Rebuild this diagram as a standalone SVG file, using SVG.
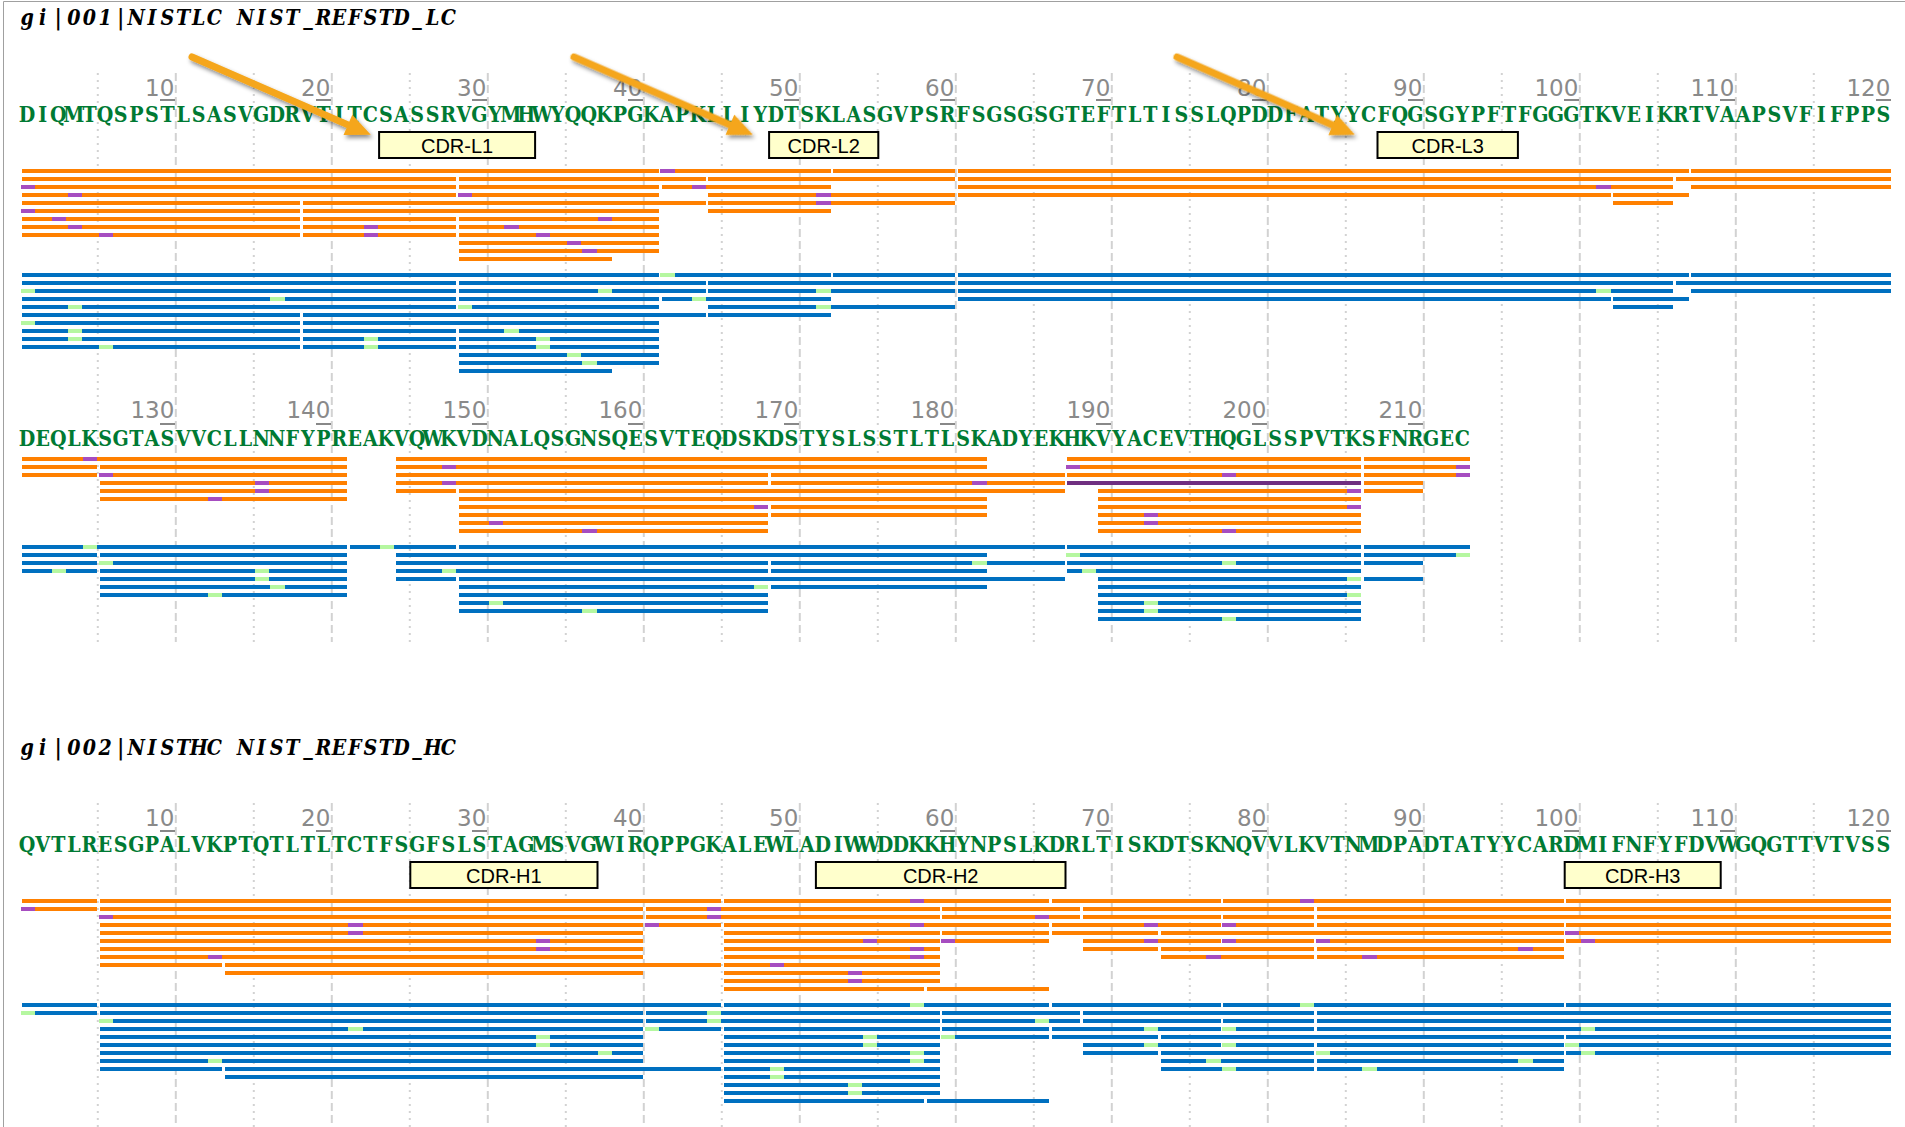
<svg xmlns="http://www.w3.org/2000/svg" width="1905" height="1127" viewBox="0 0 1905 1127">
<defs>
<style>
.title{font-family:"DejaVu Serif","Liberation Serif",serif;font-size:22px;font-weight:bold;font-style:italic;fill:#000;text-anchor:middle}
.seq{font-family:"DejaVu Serif","Liberation Serif",serif;font-size:22px;font-weight:bold;fill:#007A33;text-anchor:middle}
.num{font-family:"DejaVu Sans",Verdana,sans-serif;font-size:23px;fill:#8a8a8a;text-anchor:end}
.tick rect{fill:#888}
.cdr rect{fill:#FFFFCC;stroke:#000;stroke-width:2}
.cdr text{font-family:"Liberation Sans",Arial,sans-serif;font-size:20px;fill:#000;text-anchor:middle}
.o rect{fill:#FF8000}
.b rect{fill:#0070C0}
.o rect.p{fill:#A64DC0}
.o rect.dp{fill:#6F2F80}
.b rect.g{fill:#B5F7A0}
.bars{shape-rendering:crispEdges}
.shaft{fill:none;stroke:#F5A61C;stroke-width:7;stroke-linecap:round}
.head{fill:#F5A61C;stroke:none}
</style>
<filter id="shadow" x="-20%" y="-40%" width="140%" height="180%">
<feDropShadow dx="2" dy="3" stdDeviation="2" flood-color="#000" flood-opacity="0.45"/>
</filter>
</defs>
<rect x="0" y="0" width="1905" height="1127" fill="#fff"/>
<path d="M3.5,1127 V1.5 H1905" fill="none" stroke="#a0a0a0" stroke-width="1"/>

<g id="gridlines">
<path fill="none" stroke="#d2d2d2" stroke-width="2" stroke-dasharray="8 4" d="M175.8,73V642M331.8,73V642M487.8,73V642M643.8,73V642M799.8,73V642M955.8,73V642M1111.8,73V642M1267.8,73V642M1423.8,73V642M1579.8,73V642M1735.8,73V642M175.8,803V1127M331.8,803V1127M487.8,803V1127M643.8,803V1127M799.8,803V1127M955.8,803V1127M1111.8,803V1127M1267.8,803V1127M1423.8,803V1127M1579.8,803V1127M1735.8,803V1127"/>
<path fill="none" stroke="#d2d2d2" stroke-width="2" stroke-dasharray="2 5" d="M97.8,73V642M253.8,73V642M409.8,73V642M565.8,73V642M721.8,73V642M877.8,73V642M1033.8,73V642M1189.8,73V642M1345.8,73V642M1501.8,73V642M1657.8,73V642M1813.8,73V642M97.8,803V1127M253.8,803V1127M409.8,803V1127M565.8,803V1127M721.8,803V1127M877.8,803V1127M1033.8,803V1127M1189.8,803V1127M1345.8,803V1127M1501.8,803V1127M1657.8,803V1127M1813.8,803V1127"/>
</g>

<g id="section-lc">
<text class="title" transform="translate(27.1,0) scale(0.866667,1)" y="25" x="0 18 36 54 72 90 108 126 144 162 180 198 216 234 252 270 288 306 324 342 360 378 396 414 432 450 468 486">gi|001|NISTLC NIST_REFSTD_LC</text>
<g class="num">
<text x="174.3" y="95.5">10</text><text x="330.3" y="95.5">20</text><text x="486.3" y="95.5">30</text><text x="642.3" y="95.5">40</text><text x="798.3" y="95.5">50</text><text x="954.3" y="95.5">60</text><text x="1110.3" y="95.5">70</text><text x="1266.3" y="95.5">80</text><text x="1422.3" y="95.5">90</text><text x="1578.3" y="95.5">100</text><text x="1734.3" y="95.5">110</text><text x="1890.3" y="95.5">120</text>
</g>
<g class="tick bars" transform="translate(19.3,98.5) scale(15.6,1)">
<rect x="9.05" width="0.95" height="2.6"/><rect x="19.05" width="0.95" height="2.6"/><rect x="29.05" width="0.95" height="2.6"/><rect x="39.05" width="0.95" height="2.6"/><rect x="49.05" width="0.95" height="2.6"/><rect x="59.05" width="0.95" height="2.6"/><rect x="69.05" width="0.95" height="2.6"/><rect x="79.05" width="0.95" height="2.6"/><rect x="89.05" width="0.95" height="2.6"/><rect x="99.05" width="0.95" height="2.6"/><rect x="109.05" width="0.95" height="2.6"/><rect x="119.05" width="0.95" height="2.6"/>
</g>
<text class="seq" transform="translate(27.1,0) scale(0.866667,1)" y="122" x="0 18 36 54 72 90 108 126 144 162 180 198 216 234 252 270 288 306 324 342 360 378 396 414 432 450 468 486 504 522 540 558 576 594 612 630 648 666 684 702 720 738 756 774 792 810 828 846 864 882 900 918 936 954 972 990 1008 1026 1044 1062 1080 1098 1116 1134 1152 1170 1188 1206 1224 1242 1260 1278 1296 1314 1332 1350 1368 1386 1404 1422 1440 1458 1476 1494 1512 1530 1548 1566 1584 1602 1620 1638 1656 1674 1692 1710 1728 1746 1764 1782 1800 1818 1836 1854 1872 1890 1908 1926 1944 1962 1980 1998 2016 2034 2052 2070 2088 2106 2124 2142">DIQMTQSPSTLSASVGDRVTITCSASSRVGYMHWYQQKPGKAPKLLIYDTSKLASGVPSRFSGSGSGTEFTLTISSLQPDDFATYYCFQGSGYPFTFGGGTKVEIKRTVAAPSVFIFPPS</text>
</g>

<g id="cdr-l1" class="cdr"><rect x="379.1" y="132" width="156" height="26"/><text x="457.1" y="152.5">CDR-L1</text></g>
<g id="cdr-l2" class="cdr"><rect x="769.1" y="132" width="109.2" height="26"/><text x="823.7" y="152.5">CDR-L2</text></g>
<g id="cdr-l3" class="cdr"><rect x="1377.5" y="132" width="140.4" height="26"/><text x="1447.7" y="152.5">CDR-L3</text></g>

<g id="lc-orange" class="o bars" transform="translate(19.3,169) scale(15.6,1)">
<rect x="0.17" y="0" width="40.83" height="4"/><rect x="41.17" y="0" width="10.83" height="4"/><rect x="52.17" y="0" width="7.83" height="4"/><rect x="60.17" y="0" width="46.83" height="4"/><rect x="107.17" y="0" width="12.83" height="4"/><rect class="p" x="41.1" y="0" width="0.9" height="4"/>
<rect x="0.17" y="8" width="27.83" height="4"/><rect x="28.17" y="8" width="15.83" height="4"/><rect x="44.17" y="8" width="15.83" height="4"/><rect x="60.17" y="8" width="45.83" height="4"/><rect x="106.17" y="8" width="13.83" height="4"/>
<rect x="0.17" y="16" width="27.83" height="4"/><rect x="28.17" y="16" width="12.83" height="4"/><rect x="41.17" y="16" width="10.83" height="4"/><rect x="60.17" y="16" width="45.83" height="4"/><rect x="107.17" y="16" width="12.83" height="4"/><rect class="p" x="0.1" y="16" width="0.9" height="4"/><rect class="p" x="43.1" y="16" width="0.9" height="4"/><rect class="p" x="101.1" y="16" width="0.9" height="4"/>
<rect x="0.17" y="24" width="27.83" height="4"/><rect x="28.17" y="24" width="12.83" height="4"/><rect x="44.17" y="24" width="15.83" height="4"/><rect x="60.17" y="24" width="41.83" height="4"/><rect x="102.17" y="24" width="4.83" height="4"/><rect class="p" x="3.1" y="24" width="0.9" height="4"/><rect class="p" x="28.1" y="24" width="0.9" height="4"/><rect class="p" x="51.1" y="24" width="0.9" height="4"/>
<rect x="0.17" y="32" width="17.83" height="4"/><rect x="18.17" y="32" width="25.83" height="4"/><rect x="44.17" y="32" width="15.83" height="4"/><rect x="102.17" y="32" width="3.83" height="4"/><rect class="p" x="51.1" y="32" width="0.9" height="4"/>
<rect x="0.17" y="40" width="17.83" height="4"/><rect x="18.17" y="40" width="22.83" height="4"/><rect x="44.17" y="40" width="7.83" height="4"/><rect class="p" x="0.1" y="40" width="0.9" height="4"/>
<rect x="0.17" y="48" width="17.83" height="4"/><rect x="18.17" y="48" width="9.83" height="4"/><rect x="28.17" y="48" width="12.83" height="4"/><rect class="p" x="2.1" y="48" width="0.9" height="4"/><rect class="p" x="37.1" y="48" width="0.9" height="4"/>
<rect x="0.17" y="56" width="17.83" height="4"/><rect x="18.17" y="56" width="9.83" height="4"/><rect x="28.17" y="56" width="12.83" height="4"/><rect class="p" x="3.1" y="56" width="0.9" height="4"/><rect class="p" x="22.1" y="56" width="0.9" height="4"/><rect class="p" x="31.1" y="56" width="0.9" height="4"/>
<rect x="0.17" y="64" width="17.83" height="4"/><rect x="18.17" y="64" width="9.83" height="4"/><rect x="28.17" y="64" width="12.83" height="4"/><rect class="p" x="5.1" y="64" width="0.9" height="4"/><rect class="p" x="22.1" y="64" width="0.9" height="4"/><rect class="p" x="33.1" y="64" width="0.9" height="4"/>
<rect x="28.17" y="72" width="12.83" height="4"/><rect class="p" x="35.1" y="72" width="0.9" height="4"/>
<rect x="28.17" y="80" width="12.83" height="4"/><rect class="p" x="36.1" y="80" width="0.9" height="4"/>
<rect x="28.17" y="88" width="9.83" height="4"/>
</g>

<g id="lc-blue" class="b bars" transform="translate(19.3,273) scale(15.6,1)">
<rect x="0.17" y="0" width="40.83" height="4"/><rect x="41.17" y="0" width="10.83" height="4"/><rect x="52.17" y="0" width="7.83" height="4"/><rect x="60.17" y="0" width="46.83" height="4"/><rect x="107.17" y="0" width="12.83" height="4"/><rect class="g" x="41.1" y="0" width="0.9" height="4"/>
<rect x="0.17" y="8" width="27.83" height="4"/><rect x="28.17" y="8" width="15.83" height="4"/><rect x="44.17" y="8" width="15.83" height="4"/><rect x="60.17" y="8" width="45.83" height="4"/><rect x="106.17" y="8" width="13.83" height="4"/>
<rect x="0.17" y="16" width="27.83" height="4"/><rect x="28.17" y="16" width="15.83" height="4"/><rect x="44.17" y="16" width="15.83" height="4"/><rect x="60.17" y="16" width="45.83" height="4"/><rect x="107.17" y="16" width="12.83" height="4"/><rect class="g" x="0.1" y="16" width="0.9" height="4"/><rect class="g" x="37.1" y="16" width="0.9" height="4"/><rect class="g" x="51.1" y="16" width="0.9" height="4"/><rect class="g" x="101.1" y="16" width="0.9" height="4"/>
<rect x="0.17" y="24" width="27.83" height="4"/><rect x="28.17" y="24" width="12.83" height="4"/><rect x="41.17" y="24" width="10.83" height="4"/><rect x="60.17" y="24" width="41.83" height="4"/><rect x="102.17" y="24" width="4.83" height="4"/><rect class="g" x="16.1" y="24" width="0.9" height="4"/><rect class="g" x="43.1" y="24" width="0.9" height="4"/>
<rect x="0.17" y="32" width="27.83" height="4"/><rect x="28.17" y="32" width="12.83" height="4"/><rect x="44.17" y="32" width="15.83" height="4"/><rect x="102.17" y="32" width="3.83" height="4"/><rect class="g" x="3.1" y="32" width="0.9" height="4"/><rect class="g" x="28.1" y="32" width="0.9" height="4"/><rect class="g" x="51.1" y="32" width="0.9" height="4"/>
<rect x="0.17" y="40" width="17.83" height="4"/><rect x="18.17" y="40" width="25.83" height="4"/><rect x="44.17" y="40" width="7.83" height="4"/>
<rect x="0.17" y="48" width="17.83" height="4"/><rect x="18.17" y="48" width="22.83" height="4"/><rect class="g" x="0.1" y="48" width="0.9" height="4"/>
<rect x="0.17" y="56" width="17.83" height="4"/><rect x="18.17" y="56" width="9.83" height="4"/><rect x="28.17" y="56" width="12.83" height="4"/><rect class="g" x="3.1" y="56" width="0.9" height="4"/><rect class="g" x="31.1" y="56" width="0.9" height="4"/>
<rect x="0.17" y="64" width="17.83" height="4"/><rect x="18.17" y="64" width="9.83" height="4"/><rect x="28.17" y="64" width="12.83" height="4"/><rect class="g" x="3.1" y="64" width="0.9" height="4"/><rect class="g" x="22.1" y="64" width="0.9" height="4"/><rect class="g" x="33.1" y="64" width="0.9" height="4"/>
<rect x="0.17" y="72" width="17.83" height="4"/><rect x="18.17" y="72" width="9.83" height="4"/><rect x="28.17" y="72" width="12.83" height="4"/><rect class="g" x="5.1" y="72" width="0.9" height="4"/><rect class="g" x="22.1" y="72" width="0.9" height="4"/><rect class="g" x="33.1" y="72" width="0.9" height="4"/>
<rect x="28.17" y="80" width="12.83" height="4"/><rect class="g" x="35.1" y="80" width="0.9" height="4"/>
<rect x="28.17" y="88" width="12.83" height="4"/><rect class="g" x="36.1" y="88" width="0.9" height="4"/>
<rect x="28.17" y="96" width="9.83" height="4"/>
</g>

<g id="section-lc-const">
<g class="num">
<text x="174.3" y="418">130</text><text x="330.3" y="418">140</text><text x="486.3" y="418">150</text><text x="642.3" y="418">160</text><text x="798.3" y="418">170</text><text x="954.3" y="418">180</text><text x="1110.3" y="418">190</text><text x="1266.3" y="418">200</text><text x="1422.3" y="418">210</text>
</g>
<g class="tick bars" transform="translate(19.3,422.5) scale(15.6,1)">
<rect x="9.05" width="0.95" height="2.6"/><rect x="19.05" width="0.95" height="2.6"/><rect x="29.05" width="0.95" height="2.6"/><rect x="39.05" width="0.95" height="2.6"/><rect x="49.05" width="0.95" height="2.6"/><rect x="59.05" width="0.95" height="2.6"/><rect x="69.05" width="0.95" height="2.6"/><rect x="79.05" width="0.95" height="2.6"/><rect x="89.05" width="0.95" height="2.6"/>
</g>
<text class="seq" transform="translate(27.1,0) scale(0.866667,1)" y="446" x="0 18 36 54 72 90 108 126 144 162 180 198 216 234 252 270 288 306 324 342 360 378 396 414 432 450 468 486 504 522 540 558 576 594 612 630 648 666 684 702 720 738 756 774 792 810 828 846 864 882 900 918 936 954 972 990 1008 1026 1044 1062 1080 1098 1116 1134 1152 1170 1188 1206 1224 1242 1260 1278 1296 1314 1332 1350 1368 1386 1404 1422 1440 1458 1476 1494 1512 1530 1548 1566 1584 1602 1620 1638 1656">DEQLKSGTASVVCLLNNFYPREAKVQWKVDNALQSGNSQESVTEQDSKDSTYSLSSTLTLSKADYEKHKVYACEVTHQGLSSPVTKSFNRGEC</text>
</g>

<g id="lcc-orange" class="o bars" transform="translate(19.3,457) scale(15.6,1)">
<rect x="0.17" y="0" width="20.83" height="4"/><rect x="24.17" y="0" width="37.83" height="4"/><rect x="67.17" y="0" width="18.83" height="4"/><rect x="86.17" y="0" width="6.83" height="4"/><rect class="p" x="4.1" y="0" width="0.9" height="4"/>
<rect x="0.17" y="8" width="4.83" height="4"/><rect x="5.17" y="8" width="15.83" height="4"/><rect x="24.17" y="8" width="37.83" height="4"/><rect x="67.17" y="8" width="18.83" height="4"/><rect x="86.17" y="8" width="6.83" height="4"/><rect class="p" x="27.1" y="8" width="0.9" height="4"/><rect class="p" x="67.1" y="8" width="0.9" height="4"/><rect class="p" x="92.1" y="8" width="0.9" height="4"/>
<rect x="0.17" y="16" width="4.83" height="4"/><rect x="5.17" y="16" width="15.83" height="4"/><rect x="24.17" y="16" width="23.83" height="4"/><rect x="48.17" y="16" width="18.83" height="4"/><rect x="67.17" y="16" width="18.83" height="4"/><rect x="86.17" y="16" width="6.83" height="4"/><rect class="p" x="5.1" y="16" width="0.9" height="4"/><rect class="p" x="77.1" y="16" width="0.9" height="4"/><rect class="p" x="92.1" y="16" width="0.9" height="4"/>
<rect x="5.17" y="24" width="15.83" height="4"/><rect x="24.17" y="24" width="23.83" height="4"/><rect x="48.17" y="24" width="18.83" height="4"/><rect class="dp" x="67.17" y="24" width="18.83" height="4"/><rect x="86.17" y="24" width="3.83" height="4"/><rect class="p" x="15.1" y="24" width="0.9" height="4"/><rect class="p" x="27.1" y="24" width="0.9" height="4"/><rect class="p" x="61.1" y="24" width="0.9" height="4"/>
<rect x="5.17" y="32" width="15.83" height="4"/><rect x="24.17" y="32" width="3.83" height="4"/><rect x="28.17" y="32" width="38.83" height="4"/><rect x="69.17" y="32" width="16.83" height="4"/><rect x="86.17" y="32" width="3.83" height="4"/><rect class="p" x="15.1" y="32" width="0.9" height="4"/><rect class="p" x="85.1" y="32" width="0.9" height="4"/>
<rect x="5.17" y="40" width="15.83" height="4"/><rect x="28.17" y="40" width="33.83" height="4"/><rect x="69.17" y="40" width="16.83" height="4"/><rect class="p" x="12.1" y="40" width="0.9" height="4"/>
<rect x="28.17" y="48" width="19.83" height="4"/><rect x="48.17" y="48" width="13.83" height="4"/><rect x="69.17" y="48" width="16.83" height="4"/><rect class="p" x="47.1" y="48" width="0.9" height="4"/><rect class="p" x="85.1" y="48" width="0.9" height="4"/>
<rect x="28.17" y="56" width="19.83" height="4"/><rect x="48.17" y="56" width="13.83" height="4"/><rect x="69.17" y="56" width="16.83" height="4"/><rect class="p" x="72.1" y="56" width="0.9" height="4"/>
<rect x="28.17" y="64" width="19.83" height="4"/><rect x="69.17" y="64" width="16.83" height="4"/><rect class="p" x="30.1" y="64" width="0.9" height="4"/><rect class="p" x="72.1" y="64" width="0.9" height="4"/>
<rect x="28.17" y="72" width="19.83" height="4"/><rect x="69.17" y="72" width="16.83" height="4"/><rect class="p" x="36.1" y="72" width="0.9" height="4"/><rect class="p" x="77.1" y="72" width="0.9" height="4"/>
</g>

<g id="lcc-blue" class="b bars" transform="translate(19.3,545) scale(15.6,1)">
<rect x="0.17" y="0" width="20.83" height="4"/><rect x="21.17" y="0" width="6.83" height="4"/><rect x="28.17" y="0" width="38.83" height="4"/><rect x="67.17" y="0" width="18.83" height="4"/><rect x="86.17" y="0" width="6.83" height="4"/><rect class="g" x="4.1" y="0" width="0.9" height="4"/><rect class="g" x="23.1" y="0" width="0.9" height="4"/>
<rect x="0.17" y="8" width="4.83" height="4"/><rect x="5.17" y="8" width="15.83" height="4"/><rect x="24.17" y="8" width="37.83" height="4"/><rect x="67.17" y="8" width="18.83" height="4"/><rect x="86.17" y="8" width="6.83" height="4"/><rect class="g" x="67.1" y="8" width="0.9" height="4"/><rect class="g" x="92.1" y="8" width="0.9" height="4"/>
<rect x="0.17" y="16" width="4.83" height="4"/><rect x="5.17" y="16" width="15.83" height="4"/><rect x="24.17" y="16" width="23.83" height="4"/><rect x="48.17" y="16" width="18.83" height="4"/><rect x="67.17" y="16" width="18.83" height="4"/><rect x="86.17" y="16" width="3.83" height="4"/><rect class="g" x="5.1" y="16" width="0.9" height="4"/><rect class="g" x="61.1" y="16" width="0.9" height="4"/><rect class="g" x="77.1" y="16" width="0.9" height="4"/>
<rect x="0.17" y="24" width="4.83" height="4"/><rect x="5.17" y="24" width="15.83" height="4"/><rect x="24.17" y="24" width="23.83" height="4"/><rect x="48.17" y="24" width="13.83" height="4"/><rect x="67.17" y="24" width="18.83" height="4"/><rect class="g" x="2.1" y="24" width="0.9" height="4"/><rect class="g" x="15.1" y="24" width="0.9" height="4"/><rect class="g" x="27.1" y="24" width="0.9" height="4"/><rect class="g" x="68.1" y="24" width="0.9" height="4"/>
<rect x="5.17" y="32" width="15.83" height="4"/><rect x="24.17" y="32" width="3.83" height="4"/><rect x="28.17" y="32" width="38.83" height="4"/><rect x="69.17" y="32" width="16.83" height="4"/><rect x="86.17" y="32" width="3.83" height="4"/><rect class="g" x="15.1" y="32" width="0.9" height="4"/><rect class="g" x="85.1" y="32" width="0.9" height="4"/>
<rect x="5.17" y="40" width="15.83" height="4"/><rect x="28.17" y="40" width="19.83" height="4"/><rect x="48.17" y="40" width="13.83" height="4"/><rect x="69.17" y="40" width="16.83" height="4"/><rect class="g" x="16.1" y="40" width="0.9" height="4"/><rect class="g" x="47.1" y="40" width="0.9" height="4"/>
<rect x="5.17" y="48" width="15.83" height="4"/><rect x="28.17" y="48" width="19.83" height="4"/><rect x="69.17" y="48" width="16.83" height="4"/><rect class="g" x="12.1" y="48" width="0.9" height="4"/><rect class="g" x="85.1" y="48" width="0.9" height="4"/>
<rect x="28.17" y="56" width="19.83" height="4"/><rect x="69.17" y="56" width="16.83" height="4"/><rect class="g" x="30.1" y="56" width="0.9" height="4"/><rect class="g" x="72.1" y="56" width="0.9" height="4"/>
<rect x="28.17" y="64" width="19.83" height="4"/><rect x="69.17" y="64" width="16.83" height="4"/><rect class="g" x="36.1" y="64" width="0.9" height="4"/><rect class="g" x="72.1" y="64" width="0.9" height="4"/>
<rect x="69.17" y="72" width="16.83" height="4"/><rect class="g" x="77.1" y="72" width="0.9" height="4"/>
</g>

<g id="section-hc">
<text class="title" transform="translate(27.1,0) scale(0.866667,1)" y="755" x="0 18 36 54 72 90 108 126 144 162 180 198 216 234 252 270 288 306 324 342 360 378 396 414 432 450 468 486">gi|002|NISTHC NIST_REFSTD_HC</text>
<g class="num">
<text x="174.3" y="825.5">10</text><text x="330.3" y="825.5">20</text><text x="486.3" y="825.5">30</text><text x="642.3" y="825.5">40</text><text x="798.3" y="825.5">50</text><text x="954.3" y="825.5">60</text><text x="1110.3" y="825.5">70</text><text x="1266.3" y="825.5">80</text><text x="1422.3" y="825.5">90</text><text x="1578.3" y="825.5">100</text><text x="1734.3" y="825.5">110</text><text x="1890.3" y="825.5">120</text>
</g>
<g class="tick bars" transform="translate(19.3,829.5) scale(15.6,1)">
<rect x="9.05" width="0.95" height="2.6"/><rect x="19.05" width="0.95" height="2.6"/><rect x="29.05" width="0.95" height="2.6"/><rect x="39.05" width="0.95" height="2.6"/><rect x="49.05" width="0.95" height="2.6"/><rect x="59.05" width="0.95" height="2.6"/><rect x="69.05" width="0.95" height="2.6"/><rect x="79.05" width="0.95" height="2.6"/><rect x="89.05" width="0.95" height="2.6"/><rect x="99.05" width="0.95" height="2.6"/><rect x="109.05" width="0.95" height="2.6"/><rect x="119.05" width="0.95" height="2.6"/>
</g>
<text class="seq" transform="translate(27.1,0) scale(0.866667,1)" y="852.5" x="0 18 36 54 72 90 108 126 144 162 180 198 216 234 252 270 288 306 324 342 360 378 396 414 432 450 468 486 504 522 540 558 576 594 612 630 648 666 684 702 720 738 756 774 792 810 828 846 864 882 900 918 936 954 972 990 1008 1026 1044 1062 1080 1098 1116 1134 1152 1170 1188 1206 1224 1242 1260 1278 1296 1314 1332 1350 1368 1386 1404 1422 1440 1458 1476 1494 1512 1530 1548 1566 1584 1602 1620 1638 1656 1674 1692 1710 1728 1746 1764 1782 1800 1818 1836 1854 1872 1890 1908 1926 1944 1962 1980 1998 2016 2034 2052 2070 2088 2106 2124 2142">QVTLRESGPALVKPTQTLTLTCTFSGFSLSTAGMSVGWIRQPPGKALEWLADIWWDDKKHYNPSLKDRLTISKDTSKNQVVLKVTNMDPADTATYYCARDMIFNFYFDVWGQGTTVTVSS</text>
</g>

<g id="cdr-h1" class="cdr"><rect x="410.3" y="862" width="187.2" height="26"/><text x="503.9" y="882.5">CDR-H1</text></g>
<g id="cdr-h2" class="cdr"><rect x="815.9" y="862" width="249.6" height="26"/><text x="940.7" y="882.5">CDR-H2</text></g>
<g id="cdr-h3" class="cdr"><rect x="1564.7" y="862" width="156" height="26"/><text x="1642.7" y="882.5">CDR-H3</text></g>

<g id="hc-orange" class="o bars" transform="translate(19.3,899) scale(15.6,1)">
<rect x="0.17" y="0" width="4.83" height="4"/><rect x="5.17" y="0" width="39.83" height="4"/><rect x="45.17" y="0" width="20.83" height="4"/><rect x="66.17" y="0" width="10.83" height="4"/><rect x="77.17" y="0" width="21.83" height="4"/><rect x="99.17" y="0" width="20.83" height="4"/><rect class="p" x="57.1" y="0" width="0.9" height="4"/><rect class="p" x="82.1" y="0" width="0.9" height="4"/>
<rect x="0.17" y="8" width="4.83" height="4"/><rect x="5.17" y="8" width="34.83" height="4"/><rect x="40.17" y="8" width="18.83" height="4"/><rect x="59.17" y="8" width="8.83" height="4"/><rect x="68.17" y="8" width="14.83" height="4"/><rect x="83.17" y="8" width="36.83" height="4"/><rect class="p" x="0.1" y="8" width="0.9" height="4"/><rect class="p" x="44.1" y="8" width="0.9" height="4"/>
<rect x="5.17" y="16" width="34.83" height="4"/><rect x="40.17" y="16" width="18.83" height="4"/><rect x="59.17" y="16" width="8.83" height="4"/><rect x="68.17" y="16" width="8.83" height="4"/><rect x="77.17" y="16" width="5.83" height="4"/><rect x="83.17" y="16" width="36.83" height="4"/><rect class="p" x="5.1" y="16" width="0.9" height="4"/><rect class="p" x="44.1" y="16" width="0.9" height="4"/><rect class="p" x="65.1" y="16" width="0.9" height="4"/>
<rect x="5.17" y="24" width="34.83" height="4"/><rect x="40.17" y="24" width="4.83" height="4"/><rect x="45.17" y="24" width="20.83" height="4"/><rect x="66.17" y="24" width="10.83" height="4"/><rect x="77.17" y="24" width="5.83" height="4"/><rect x="83.17" y="24" width="15.83" height="4"/><rect x="99.17" y="24" width="20.83" height="4"/><rect class="p" x="21.1" y="24" width="0.9" height="4"/><rect class="p" x="40.1" y="24" width="0.9" height="4"/><rect class="p" x="57.1" y="24" width="0.9" height="4"/><rect class="p" x="72.1" y="24" width="0.9" height="4"/><rect class="p" x="77.1" y="24" width="0.9" height="4"/>
<rect x="5.17" y="32" width="34.83" height="4"/><rect x="45.17" y="32" width="13.83" height="4"/><rect x="59.17" y="32" width="6.83" height="4"/><rect x="66.17" y="32" width="6.83" height="4"/><rect x="73.17" y="32" width="25.83" height="4"/><rect x="99.17" y="32" width="20.83" height="4"/><rect class="p" x="21.1" y="32" width="0.9" height="4"/><rect class="p" x="99.1" y="32" width="0.9" height="4"/>
<rect x="5.17" y="40" width="34.83" height="4"/><rect x="45.17" y="40" width="13.83" height="4"/><rect x="59.17" y="40" width="6.83" height="4"/><rect x="68.17" y="40" width="8.83" height="4"/><rect x="77.17" y="40" width="5.83" height="4"/><rect x="83.17" y="40" width="15.83" height="4"/><rect x="99.17" y="40" width="20.83" height="4"/><rect class="p" x="33.1" y="40" width="0.9" height="4"/><rect class="p" x="54.1" y="40" width="0.9" height="4"/><rect class="p" x="59.1" y="40" width="0.9" height="4"/><rect class="p" x="72.1" y="40" width="0.9" height="4"/><rect class="p" x="77.1" y="40" width="0.9" height="4"/><rect class="p" x="83.1" y="40" width="0.9" height="4"/><rect class="p" x="100.1" y="40" width="0.9" height="4"/>
<rect x="5.17" y="48" width="34.83" height="4"/><rect x="45.17" y="48" width="13.83" height="4"/><rect x="68.17" y="48" width="4.83" height="4"/><rect x="73.17" y="48" width="9.83" height="4"/><rect x="83.17" y="48" width="15.83" height="4"/><rect class="p" x="33.1" y="48" width="0.9" height="4"/><rect class="p" x="57.1" y="48" width="0.9" height="4"/><rect class="p" x="96.1" y="48" width="0.9" height="4"/>
<rect x="5.17" y="56" width="34.83" height="4"/><rect x="45.17" y="56" width="13.83" height="4"/><rect x="73.17" y="56" width="9.83" height="4"/><rect x="83.17" y="56" width="15.83" height="4"/><rect class="p" x="12.1" y="56" width="0.9" height="4"/><rect class="p" x="57.1" y="56" width="0.9" height="4"/><rect class="p" x="76.1" y="56" width="0.9" height="4"/><rect class="p" x="86.1" y="56" width="0.9" height="4"/>
<rect x="5.17" y="64" width="7.83" height="4"/><rect x="13.17" y="64" width="31.83" height="4"/><rect x="45.17" y="64" width="13.83" height="4"/><rect class="p" x="48.1" y="64" width="0.9" height="4"/>
<rect x="13.17" y="72" width="26.83" height="4"/><rect x="45.17" y="72" width="13.83" height="4"/><rect class="p" x="53.1" y="72" width="0.9" height="4"/>
<rect x="45.17" y="80" width="13.83" height="4"/><rect class="p" x="53.1" y="80" width="0.9" height="4"/>
<rect x="45.17" y="88" width="12.83" height="4"/><rect x="58.17" y="88" width="7.83" height="4"/>
</g>

<g id="hc-blue" class="b bars" transform="translate(19.3,1003) scale(15.6,1)">
<rect x="0.17" y="0" width="4.83" height="4"/><rect x="5.17" y="0" width="39.83" height="4"/><rect x="45.17" y="0" width="20.83" height="4"/><rect x="66.17" y="0" width="10.83" height="4"/><rect x="77.17" y="0" width="21.83" height="4"/><rect x="99.17" y="0" width="20.83" height="4"/><rect class="g" x="57.1" y="0" width="0.9" height="4"/><rect class="g" x="82.1" y="0" width="0.9" height="4"/>
<rect x="0.17" y="8" width="4.83" height="4"/><rect x="5.17" y="8" width="34.83" height="4"/><rect x="40.17" y="8" width="18.83" height="4"/><rect x="59.17" y="8" width="8.83" height="4"/><rect x="68.17" y="8" width="14.83" height="4"/><rect x="83.17" y="8" width="36.83" height="4"/><rect class="g" x="0.1" y="8" width="0.9" height="4"/><rect class="g" x="44.1" y="8" width="0.9" height="4"/>
<rect x="5.17" y="16" width="34.83" height="4"/><rect x="40.17" y="16" width="18.83" height="4"/><rect x="59.17" y="16" width="8.83" height="4"/><rect x="68.17" y="16" width="8.83" height="4"/><rect x="77.17" y="16" width="5.83" height="4"/><rect x="83.17" y="16" width="36.83" height="4"/><rect class="g" x="5.1" y="16" width="0.9" height="4"/><rect class="g" x="44.1" y="16" width="0.9" height="4"/><rect class="g" x="65.1" y="16" width="0.9" height="4"/>
<rect x="5.17" y="24" width="34.83" height="4"/><rect x="40.17" y="24" width="4.83" height="4"/><rect x="45.17" y="24" width="13.83" height="4"/><rect x="59.17" y="24" width="6.83" height="4"/><rect x="66.17" y="24" width="10.83" height="4"/><rect x="77.17" y="24" width="5.83" height="4"/><rect x="83.17" y="24" width="36.83" height="4"/><rect class="g" x="21.1" y="24" width="0.9" height="4"/><rect class="g" x="40.1" y="24" width="0.9" height="4"/><rect class="g" x="72.1" y="24" width="0.9" height="4"/><rect class="g" x="77.1" y="24" width="0.9" height="4"/><rect class="g" x="100.1" y="24" width="0.9" height="4"/>
<rect x="5.17" y="32" width="34.83" height="4"/><rect x="45.17" y="32" width="13.83" height="4"/><rect x="59.17" y="32" width="6.83" height="4"/><rect x="66.17" y="32" width="6.83" height="4"/><rect x="73.17" y="32" width="25.83" height="4"/><rect x="99.17" y="32" width="20.83" height="4"/><rect class="g" x="33.1" y="32" width="0.9" height="4"/><rect class="g" x="54.1" y="32" width="0.9" height="4"/><rect class="g" x="59.1" y="32" width="0.9" height="4"/>
<rect x="5.17" y="40" width="34.83" height="4"/><rect x="45.17" y="40" width="13.83" height="4"/><rect x="68.17" y="40" width="8.83" height="4"/><rect x="77.17" y="40" width="5.83" height="4"/><rect x="83.17" y="40" width="15.83" height="4"/><rect x="99.17" y="40" width="20.83" height="4"/><rect class="g" x="33.1" y="40" width="0.9" height="4"/><rect class="g" x="54.1" y="40" width="0.9" height="4"/><rect class="g" x="72.1" y="40" width="0.9" height="4"/><rect class="g" x="77.1" y="40" width="0.9" height="4"/><rect class="g" x="99.1" y="40" width="0.9" height="4"/>
<rect x="5.17" y="48" width="34.83" height="4"/><rect x="45.17" y="48" width="13.83" height="4"/><rect x="68.17" y="48" width="4.83" height="4"/><rect x="73.17" y="48" width="9.83" height="4"/><rect x="83.17" y="48" width="15.83" height="4"/><rect x="99.17" y="48" width="20.83" height="4"/><rect class="g" x="37.1" y="48" width="0.9" height="4"/><rect class="g" x="57.1" y="48" width="0.9" height="4"/><rect class="g" x="83.1" y="48" width="0.9" height="4"/><rect class="g" x="100.1" y="48" width="0.9" height="4"/>
<rect x="5.17" y="56" width="34.83" height="4"/><rect x="45.17" y="56" width="13.83" height="4"/><rect x="73.17" y="56" width="9.83" height="4"/><rect x="83.17" y="56" width="15.83" height="4"/><rect class="g" x="12.1" y="56" width="0.9" height="4"/><rect class="g" x="57.1" y="56" width="0.9" height="4"/><rect class="g" x="76.1" y="56" width="0.9" height="4"/><rect class="g" x="96.1" y="56" width="0.9" height="4"/>
<rect x="5.17" y="64" width="7.83" height="4"/><rect x="13.17" y="64" width="31.83" height="4"/><rect x="45.17" y="64" width="13.83" height="4"/><rect x="73.17" y="64" width="9.83" height="4"/><rect x="83.17" y="64" width="15.83" height="4"/><rect class="g" x="48.1" y="64" width="0.9" height="4"/><rect class="g" x="77.1" y="64" width="0.9" height="4"/><rect class="g" x="86.1" y="64" width="0.9" height="4"/>
<rect x="13.17" y="72" width="26.83" height="4"/><rect x="45.17" y="72" width="13.83" height="4"/><rect class="g" x="48.1" y="72" width="0.9" height="4"/>
<rect x="45.17" y="80" width="13.83" height="4"/><rect class="g" x="53.1" y="80" width="0.9" height="4"/>
<rect x="45.17" y="88" width="13.83" height="4"/><rect class="g" x="53.1" y="88" width="0.9" height="4"/>
<rect x="45.17" y="96" width="12.83" height="4"/><rect x="58.17" y="96" width="7.83" height="4"/>
</g>

<g id="connectors" filter="url(#shadow)">
<g id="arrow-cdr-l1" transform="translate(192,57) rotate(23.5)"><path class="shaft" d="M0,0 H172"/><path class="head" d="M170,-11 L195,0 L170,11 Z"/></g>
<g id="arrow-cdr-l2" transform="translate(574,57) rotate(23.5)"><path class="shaft" d="M0,0 H172"/><path class="head" d="M170,-11 L195,0 L170,11 Z"/></g>
<g id="arrow-cdr-l3" transform="translate(1177,57) rotate(23.6)"><path class="shaft" d="M0,0 H172"/><path class="head" d="M170,-11 L194,0 L170,11 Z"/></g>
</g>
</svg>
